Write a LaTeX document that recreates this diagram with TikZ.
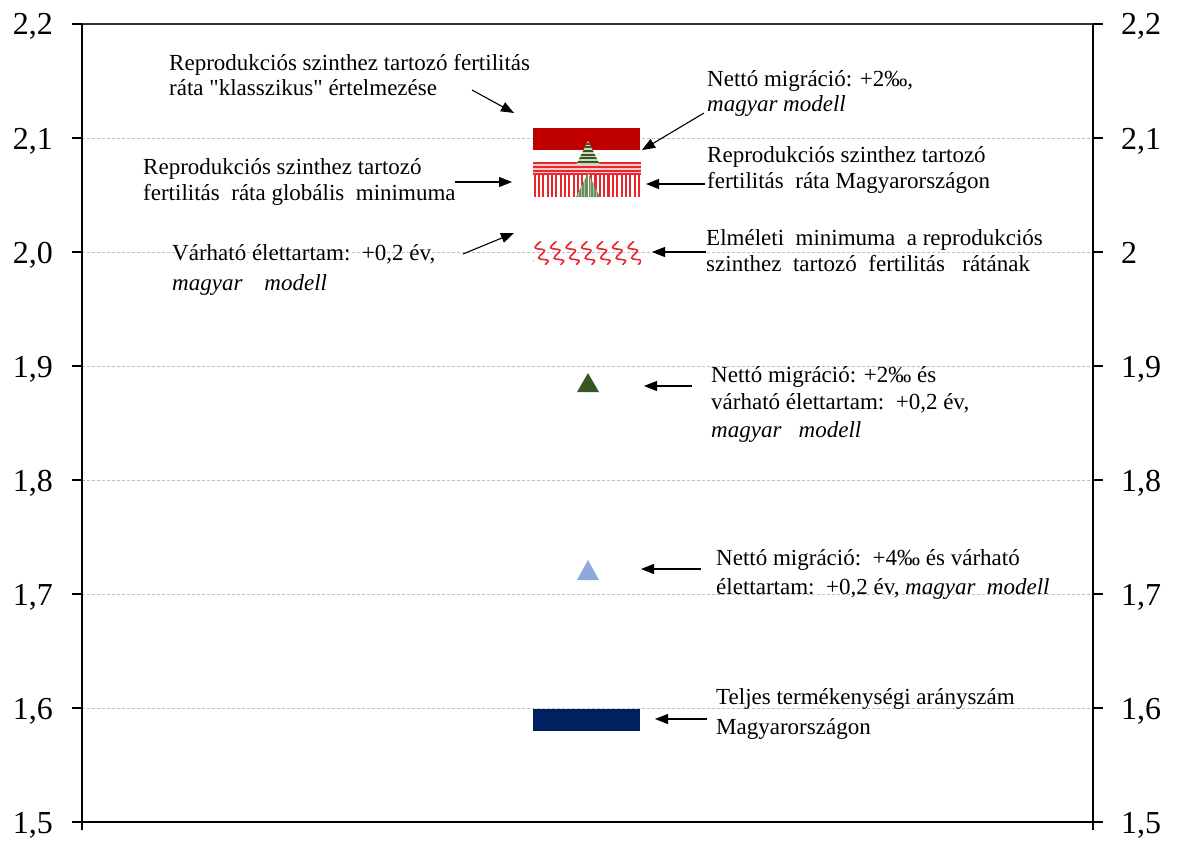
\documentclass[tikz,border=0pt]{standalone}
\usepackage{fontspec}
\setmainfont{Liberation Serif}
\usetikzlibrary{arrows.meta,decorations.pathmorphing}
\definecolor{dkred}{HTML}{C00000}
\definecolor{stred}{HTML}{E8262B}
\definecolor{stpink}{HTML}{F6C9C9}
\definecolor{navy}{HTML}{002060}
\definecolor{dkgreen}{HTML}{385723}
\definecolor{ltgreen}{HTML}{C9D8C0}
\definecolor{midgreen}{HTML}{6E8E5C}
\definecolor{ltblue}{HTML}{8EAADB}
\definecolor{gridgray}{HTML}{BFBFBF}
\begin{document}
\begin{tikzpicture}[x=1pt,y=-1pt,
  lbl/.style={font=\fontsize{23}{27}\selectfont, inner sep=0pt, anchor=base west},
  ticklbl/.style={font=\fontsize{32}{36}\selectfont, inner sep=0pt},
  gridln/.style={draw=gridgray, dash pattern=on 3pt off 2pt, line width=0.8pt},
  axisln/.style={draw=black, line width=1.1pt},
  arr/.style={-{Triangle[length=13pt,width=10pt]}, line width=1.1pt, black},
]
\useasboundingbox (0,0) rectangle (1177,840);
% grid lines
\foreach \yy in {138,252,366,480,594,708}{
  \draw[gridln] (82,\yy) -- (1093,\yy);
}
% frame lines
\draw[line width=1.3pt, black!80] (72,24) -- (1103,24);
\draw[axisln] (72,822) -- (1103,822);
\draw[axisln] (82,24) -- (82,830);
\draw[axisln] (1093,24) -- (1093,830);
% ticks and labels
\foreach \yy/\ll/\rl/\nm in {24/{2,2}/{2,2}/a, 138/{2,1}/{2,1}/b, 252/{2,0}/{2}/c, 366/{1,9}/{1,9}/d, 480/{1,8}/{1,8}/e, 594/{1,7}/{1,7}/f, 708/{1,6}/{1,6}/g, 822/{1,5}/{1,5}/h}{
  \draw[axisln] (72,\yy) -- (82,\yy);
  \draw[axisln] (1093,\yy) -- (1103,\yy);
  \node[ticklbl, anchor=base east] (L\nm) at (53,\yy+11) {\ll};
  \node[ticklbl, anchor=base west] (R\nm) at (1121,\yy+11) {\rl};
}
% marker: dark red bar (classic)
\fill[dkred] (533,128) rectangle (640,150);
% marker: horizontally striped bar (global minimum)
\fill[stpink] (533,162) rectangle (641,173);
\foreach \yy in {163.2,167,170.8}{
  \fill[stred] (533,\yy-0.9) rectangle (641,\yy+0.9);
}
% marker: vertically striped bar (Hungary)
\fill[white] (533,173) rectangle (641,197);
\fill[stred] (533,173) rectangle (641,174.5);
\foreach \i in {0,...,24}{
  \fill[stred] (533.5+4.35*\i,173) rectangle ++(2.1,24);
}
% green triangle with horizontal stripes
\begin{scope}
  \clip (576,165) -- (588,141) -- (600,165) -- cycle;
  \fill[ltgreen] (570,140) rectangle (606,166);
  \foreach \yy in {143.5,147.2,150.9,154.6,158.3,162}{
    \fill[dkgreen] (570,\yy-1) rectangle (606,\yy+1);
  }
\end{scope}
% green triangle with vertical stripes
\begin{scope}
  \clip (576,197) -- (588,173) -- (600,197) -- cycle;
  \fill[midgreen] (570,172) rectangle (606,198);
  \foreach \xx in {578,581,584,590,593,596}{
    \fill[ltgreen!70!midgreen] (\xx,172) rectangle ++(0.8,26);
  }
  \fill[white] (587.6,172) rectangle ++(0.9,26);
\end{scope}
% wave marker (theoretical minimum)
\begin{scope}
  \clip (533,241) rectangle (641,264);
  \foreach \i in {-1,...,7}{
    \draw[stred, line width=1.6pt, decorate, decoration={snake, segment length=11pt, amplitude=4pt}]
      (536+15.5*\i,238) -- (546+15.5*\i,267);
  }
\end{scope}
% triangles
\fill[dkgreen] (577,392) -- (588,373) -- (599,392) -- cycle;
\fill[ltblue] (577,580) -- (588,560) -- (599,580) -- cycle;
% navy bar
\fill[navy] (533,709) rectangle (640,731);

% texts
\node[lbl] (t1a) at (169,71) {Reprodukciós szinthez tartozó fertilitás};
\node[lbl] (t1b) at (169,96) {ráta \textquotedbl klasszikus\textquotedbl{} értelmezése};
\node[lbl] (t2a) at (707,87) {Nettó migráció: +2‰,};
\node[lbl] (t2b) at (707,112) {\itshape magyar modell};
\node[lbl] (t3a) at (707,162) {Reprodukciós szinthez tartozó};
\node[lbl] (t3b) at (707,188) {fertilitás\ \ ráta Magyarországon};
\node[lbl] (t4a) at (143,174) {Reprodukciós szinthez tartozó};
\node[lbl] (t4b) at (143,200) {fertilitás\ \ ráta globális\ \ minimuma};
\node[lbl] (t5a) at (172,260) {Várható élettartam:\ \ +0,2 év,};
\node[lbl] (t5b) at (172,290) {\itshape magyar\hspace{22pt}modell};
\node[lbl] (t6a) at (706,245) {Elméleti\ \ minimuma\ \ a reprodukciós};
\node[lbl] (t6b) at (706,271) {szinthez\ \ tartozó\ \ fertilitás\ \ \ rátának};
\node[lbl] (t7a) at (711,382) {Nettó migráció: +2‰ és};
\node[lbl] (t7b) at (711,409) {várható élettartam:\ \ +0,2 év,};
\node[lbl] (t7c) at (711,437) {\itshape magyar\ \ \ modell};
\node[lbl] (t8a) at (716,565) {Nettó migráció:\ \ +4‰ és várható};
\node[lbl] (t8b) at (716,594) {élettartam:\ \ +0,2 év,\ \itshape magyar\ \ modell};
\node[lbl] (t9a) at (716,704) {Teljes termékenységi arányszám};
\node[lbl] (t9b) at (716,734) {Magyarországon};

% arrow end points
\coordinate (s1) at (472,90);  \coordinate (e1) at (514,113);
\coordinate (s2) at (704,113); \coordinate (e2) at (642,150);
\coordinate (s3) at (455,182); \coordinate (e3) at (512,182);
\coordinate (s4) at (705,184); \coordinate (e4) at (646,184);
\coordinate (s5) at (463,254); \coordinate (e5) at (514,233);
\coordinate (s6) at (706,252); \coordinate (e6) at (652,252);
\coordinate (s7) at (692,386); \coordinate (e7) at (644,386);
\coordinate (s8) at (701,569); \coordinate (e8) at (641,569);
\coordinate (s9) at (707,719); \coordinate (e9) at (655,719);
\foreach \k in {1,...,9}{
  \draw[arr] (s\k) -- (e\k);
}
\end{tikzpicture}
\end{document}
